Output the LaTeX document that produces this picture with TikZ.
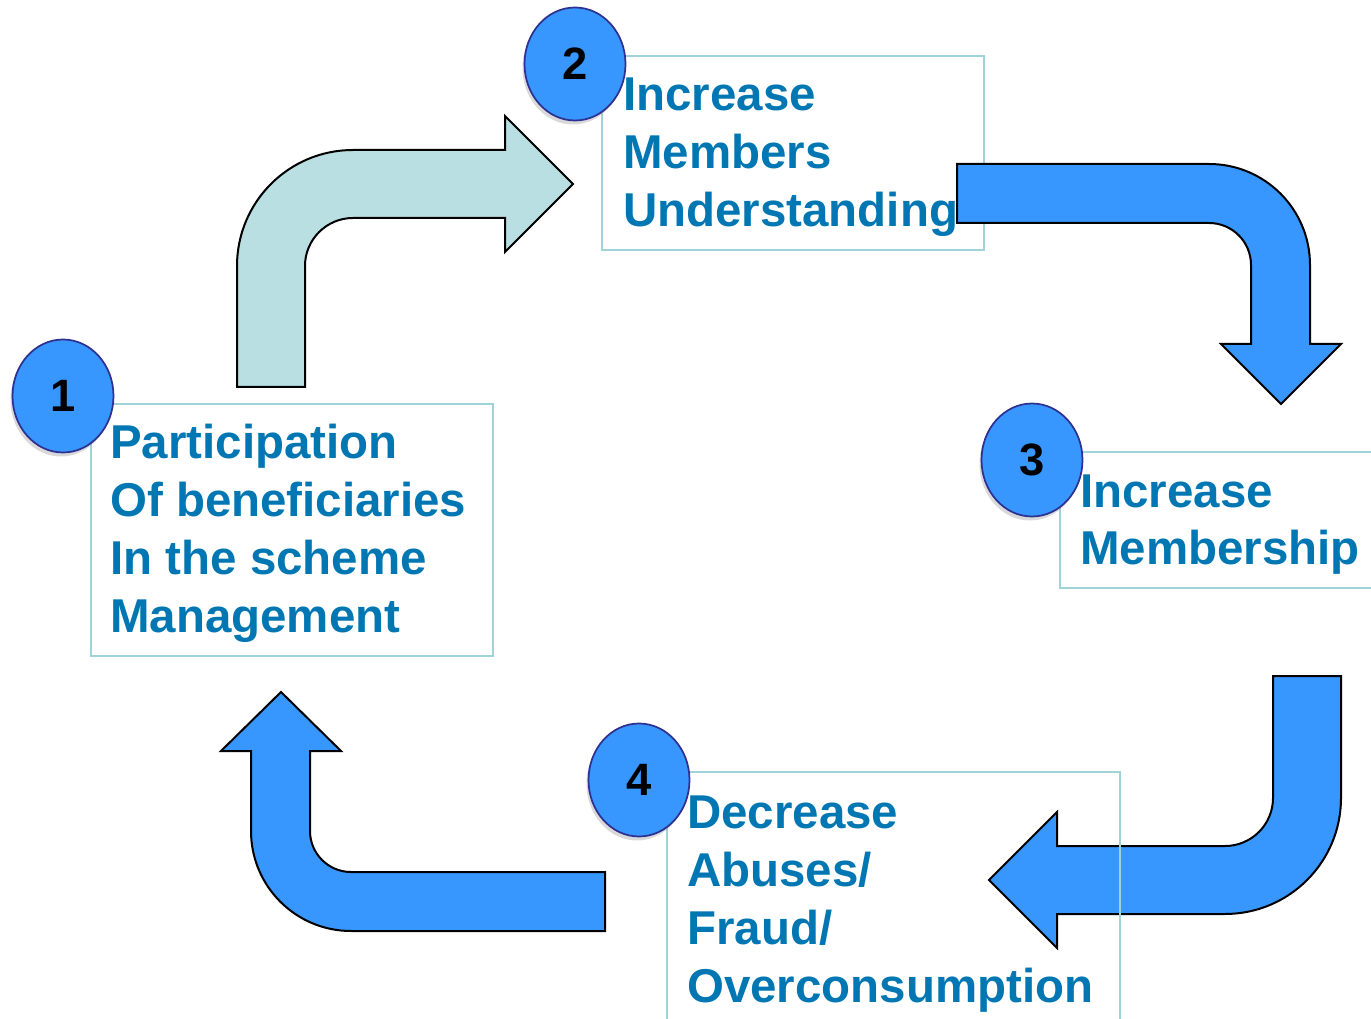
\documentclass[tikz,border=0pt]{standalone}
\usepackage{fontspec}
\setmainfont{Liberation Sans}
\usetikzlibrary{shapes.geometric,shadows,fit}

\definecolor{stepblue}{HTML}{3797FF}
\definecolor{ringblue}{HTML}{2E3192}
\definecolor{boxteal}{HTML}{9ED3D8}
\definecolor{palearrow}{HTML}{B9DFE2}
\definecolor{labelblue}{HTML}{0077B3}

\tikzset{
  stepbox/.style={draw=boxteal, line width=1.3pt, inner sep=0pt},
  steptext/.style={anchor=base west, align=left, inner sep=0pt, text=labelblue,
    font=\fontsize{35.6}{43.5}\selectfont\bfseries},
  stepnum/.style={ellipse, draw=ringblue, line width=1.3pt, fill=stepblue,
    minimum width=75.75pt, minimum height=84.75pt, inner sep=0pt,
    font=\fontsize{34}{40}\selectfont\bfseries,
    drop shadow={shadow xshift=-1.5pt, shadow yshift=-3pt, opacity=0.3}},
  bentarrow/.style={draw=black, line width=1.5pt, line join=miter},
}

\begin{document}
\begin{tikzpicture}[x=0.75pt, y=-0.75pt]

    \useasboundingbox (0,0) rectangle (1371,1019);

    % Step 1 box (text placed by its last baseline)
    \node[stepbox, fit={(91,404) (493,656)}] (box1) {};
    \node[steptext] (text1) at (110,632) {Participation\\Of beneficiaries\\In the scheme\\Management};

    % Arrow from 1 to 2
    \draw[bentarrow, fill=palearrow] (237,387) -- (237,266)
        .. controls (237,201.9) and (288.9,150) .. (353,150)
        -- (505,150) -- (505,116) -- (573,184) -- (505,252) -- (505,218) -- (353,218)
        .. controls (326.5,218) and (305,239.5) .. (305,266)
        -- (305,387) -- cycle;

    % Step 2 box
    \node[stepbox, fit={(602,56) (984,250)}] (box2) {};
    \node[steptext] (text2) at (623,227) {Increase\\Members\\Understanding};

    % Arrow from 2 to 3
    \draw[bentarrow, fill=stepblue] (957,164) -- (1209,164)
        .. controls (1264.8,164) and (1310,209.2) .. (1310,265)
        -- (1310,344) -- (1341,344) -- (1281,404) -- (1221,344) -- (1251,344) -- (1251,265)
        .. controls (1251,241.8) and (1232.2,223) .. (1209,223)
        -- (957,223) -- cycle;

    % Step 3 box
    \node[stepbox, fit={(1060,452) (1390,588)}] (box3) {};
    \node[steptext] (text3) at (1080,565) {Increase\\Membership};

    % Arrow from 3 to 4
    \draw[bentarrow, fill=stepblue] (1273,676) -- (1341,676) -- (1341,798)
        .. controls (1341,862.1) and (1289.1,914) .. (1225,914)
        -- (1057,914) -- (1057,948) -- (989,880) -- (1057,812) -- (1057,846) -- (1225,846)
        .. controls (1251.5,846) and (1273,824.5) .. (1273,798)
        -- cycle;

    % Step 4 box
    \node[stepbox, fit={(667,772) (1120,1040)}] (box4) {};
    \node[steptext] (text4) at (687,1002) {Decrease\\Abuses/\\Fraud/\\Overconsumption};

    % Arrow from 4 back to 1
    \draw[bentarrow, fill=stepblue] (605,872) -- (351,872)
        .. controls (328.4,872) and (310,853.6) .. (310,831)
        -- (310,751) -- (341,751) -- (281,692) -- (221,751) -- (251,751) -- (251,831)
        .. controls (251,886.2) and (295.8,931) .. (351,931)
        -- (605,931) -- cycle;

    % Step numbers
    \node[stepnum] (num1) at (63,396) {1};
    \node[stepnum] (num2) at (575,64) {2};
    \node[stepnum] (num3) at (1032,460) {3};
    \node[stepnum] (num4) at (639,780) {4};

\end{tikzpicture}
\end{document}
